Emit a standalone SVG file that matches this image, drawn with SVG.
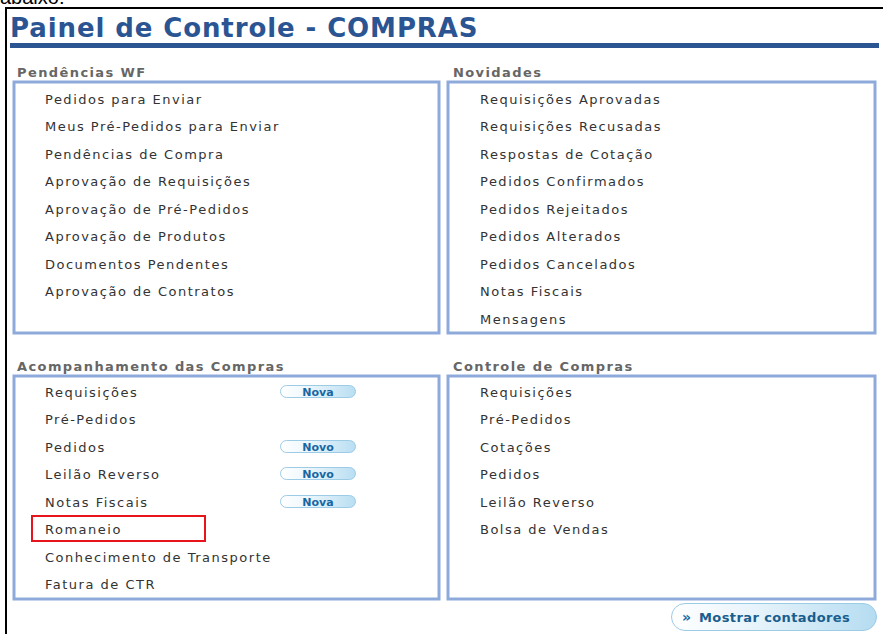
<svg xmlns="http://www.w3.org/2000/svg" width="883" height="634" viewBox="0 0 883 634">
<defs>
<linearGradient id="badge" x1="0" y1="0" x2="1" y2="0">
<stop offset="0" stop-color="#ffffff"/>
<stop offset="0.35" stop-color="#eef7fc"/>
<stop offset="1" stop-color="#b9def2"/>
</linearGradient>
<linearGradient id="btn" x1="0" y1="0" x2="1" y2="0">
<stop offset="0" stop-color="#ffffff"/>
<stop offset="0.4" stop-color="#e8f4fb"/>
<stop offset="1" stop-color="#b5dcf1"/>
</linearGradient>
</defs>
<style>
.item{font-family:"DejaVu Sans",Verdana,sans-serif;font-size:13px;fill:#333333;letter-spacing:1.5px}
.head{font-family:"DejaVu Sans",Verdana,sans-serif;font-size:13px;font-weight:bold;fill:#666666;letter-spacing:1.4px}
.panel{fill:#ffffff;stroke:#8eaadb;stroke-width:3}
.badge rect{fill:url(#badge);stroke:#9ccbe6;stroke-width:1}
.badge text{font-family:"DejaVu Sans",Verdana,sans-serif;font-size:11px;font-weight:bold;fill:#1767a3;text-anchor:middle}
</style>
<rect width="883" height="634" fill="#ffffff"/>
<text x="0" y="4" font-family="Liberation Sans, Arial, sans-serif" font-size="20" fill="#000">abaixo:</text>
<path d="M6 634 V8 H883" fill="none" stroke="#000" stroke-width="2"/>
<g id="title">
<text x="10" y="37" font-family="DejaVu Sans, Verdana, sans-serif" font-size="26" font-weight="bold" fill="#2b5592" letter-spacing="0.9">Painel de Controle - COMPRAS</text>
<rect x="10" y="43" width="869" height="5" fill="#2b5592"/>
</g>
<g id="pendencias">
<text class="head" x="17" y="77">Pendências WF</text>
<rect class="panel" x="14" y="82" width="425" height="251"/>
<text class="item" x="45" y="104">Pedidos para Enviar</text>
<text class="item" x="45" y="131">Meus Pré-Pedidos para Enviar</text>
<text class="item" x="45" y="159">Pendências de Compra</text>
<text class="item" x="45" y="186">Aprovação de Requisições</text>
<text class="item" x="45" y="214">Aprovação de Pré-Pedidos</text>
<text class="item" x="45" y="241">Aprovação de Produtos</text>
<text class="item" x="45" y="269">Documentos Pendentes</text>
<text class="item" x="45" y="296">Aprovação de Contratos</text>
</g>
<g id="novidades">
<text class="head" x="453" y="77">Novidades</text>
<rect class="panel" x="448" y="82" width="427" height="251"/>
<text class="item" x="480" y="104">Requisições Aprovadas</text>
<text class="item" x="480" y="131">Requisições Recusadas</text>
<text class="item" x="480" y="159">Respostas de Cotação</text>
<text class="item" x="480" y="186">Pedidos Confirmados</text>
<text class="item" x="480" y="214">Pedidos Rejeitados</text>
<text class="item" x="480" y="241">Pedidos Alterados</text>
<text class="item" x="480" y="269">Pedidos Cancelados</text>
<text class="item" x="480" y="296">Notas Fiscais</text>
<text class="item" x="480" y="324">Mensagens</text>
</g>
<g id="acompanhamento">
<text class="head" x="17" y="371">Acompanhamento das Compras</text>
<rect class="panel" x="14" y="376" width="425" height="223"/>
<text class="item" x="45" y="397">Requisições</text>
<text class="item" x="45" y="424">Pré-Pedidos</text>
<text class="item" x="45" y="452">Pedidos</text>
<text class="item" x="45" y="479">Leilão Reverso</text>
<text class="item" x="45" y="507">Notas Fiscais</text>
<text class="item" x="45" y="534">Romaneio</text>
<text class="item" x="45" y="562">Conhecimento de Transporte</text>
<text class="item" x="45" y="589">Fatura de CTR</text>
<g class="badge"><rect x="280.5" y="385.5" width="75" height="12" rx="6"/><text x="318" y="395.5">Nova</text></g>
<g class="badge"><rect x="280.5" y="440.5" width="75" height="12" rx="6"/><text x="318" y="450.5">Novo</text></g>
<g class="badge"><rect x="280.5" y="467.5" width="75" height="12" rx="6"/><text x="318" y="477.5">Novo</text></g>
<g class="badge"><rect x="280.5" y="495.5" width="75" height="12" rx="6"/><text x="318" y="505.5">Nova</text></g>
<rect x="32" y="516" width="173" height="25" fill="none" stroke="#e8141c" stroke-width="2"/>
</g>
<g id="controle">
<text class="head" x="453" y="371">Controle de Compras</text>
<rect class="panel" x="448" y="376" width="427" height="223"/>
<text class="item" x="480" y="397">Requisições</text>
<text class="item" x="480" y="424">Pré-Pedidos</text>
<text class="item" x="480" y="452">Cotações</text>
<text class="item" x="480" y="479">Pedidos</text>
<text class="item" x="480" y="507">Leilão Reverso</text>
<text class="item" x="480" y="534">Bolsa de Vendas</text>
</g>
<g id="mostrar">
<rect x="671.5" y="603.5" width="205" height="27" rx="13.5" fill="url(#btn)" stroke="#9ccbe6"/>
<text x="682" y="622" font-family="DejaVu Sans, Verdana, sans-serif" font-size="14" font-weight="bold" fill="#1a6aa6">»</text>
<text x="699" y="622" font-family="DejaVu Sans, Verdana, sans-serif" font-size="13" font-weight="bold" fill="#1a5e8e" letter-spacing="0.4">Mostrar contadores</text>
</g>
</svg>
